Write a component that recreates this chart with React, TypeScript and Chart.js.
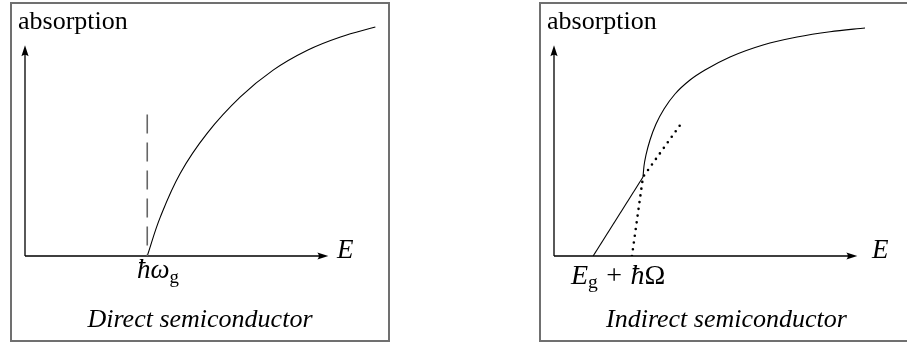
import React, { useEffect, useRef } from "react";
import { Chart, registerables } from "chart.js";

Chart.register(...registerables);

// ---------- Data (energy E in arbitrary units, absorption in arbitrary units) ----------
// Direct semiconductor
const directEnergy = [4.03, 4.46, 5.12, 6.01, 7.1, 8.18, 9.31, 10.4, 11.55];
const directAbsorption = [0, 1.29, 2.75, 4.08, 5.28, 6.17, 6.83, 7.27, 7.6];
const gapEnergy = 4.03; // ħω_g
const gapMarkerTop = 4.7;

// Indirect semiconductor
const indirectLinearEnergy = [1.29, 2.934];
const indirectLinearAbsorption = [0, 2.622];
const indirectCurveEnergy = [2.934, 2.967, 3.033, 3.165, 3.363, 3.627, 3.989, 4.484, 4.978, 5.803, 6.891, 8.012, 9.1, 10.254];
const indirectCurveAbsorption = [2.622, 2.988, 3.353, 3.851, 4.382, 4.88, 5.378, 5.842, 6.174, 6.606, 7.004, 7.27, 7.446, 7.568];
const dottedEnergy = [2.57, 2.934, 4.16];
const dottedAbsorption = [0, 2.622, 4.35];

// Axis extents
const axisMaxE = 10;
const axisMaxA = 7;
const scaleMaxE = 12;
const scaleMaxA = 8;

const pts = (xs: number[], ys: number[]) => xs.map((x, i) => ({ x, y: ys[i] }));

const FONT = '"Liberation Serif", "DejaVu Serif", serif';

const arrowAxes = {
  id: "arrowAxes",
  beforeDatasetsDraw(chart: any) {
    const { ctx, scales } = chart;
    const x = scales.x;
    const y = scales.y;
    const x0 = x.getPixelForValue(0);
    const y0 = y.getPixelForValue(0);
    const x1 = x.getPixelForValue(axisMaxE);
    const y1 = y.getPixelForValue(axisMaxA);
    ctx.save();
    ctx.strokeStyle = "#000";
    ctx.fillStyle = "#000";
    ctx.lineWidth = 1.3;
    ctx.beginPath();
    ctx.moveTo(x0, y0);
    ctx.lineTo(x1 - 6, y0);
    ctx.moveTo(x0, y0);
    ctx.lineTo(x0, y1 + 6);
    ctx.stroke();
    // x arrow head
    ctx.beginPath();
    ctx.moveTo(x1, y0);
    ctx.lineTo(x1 - 11, y0 - 3.6);
    ctx.quadraticCurveTo(x1 - 8, y0, x1 - 11, y0 + 3.6);
    ctx.closePath();
    ctx.fill();
    // y arrow head
    ctx.beginPath();
    ctx.moveTo(x0, y1);
    ctx.lineTo(x0 - 3.6, y1 + 11);
    ctx.quadraticCurveTo(x0, y1 + 8, x0 + 3.6, y1 + 11);
    ctx.closePath();
    ctx.fill();
    ctx.restore();
  },
};

function Panel({ left, datasets }: { left: number; datasets: any[] }) {
  const ref = useRef<HTMLCanvasElement | null>(null);
  useEffect(() => {
    if (!ref.current) return;
    const chart = new Chart(ref.current, {
      type: "line",
      data: { datasets },
      options: {
        animation: false,
        responsive: false,
        maintainAspectRatio: false,
        layout: { padding: { left: 15, top: 13, right: 1, bottom: 86 } },
        plugins: { legend: { display: false }, tooltip: { enabled: false } },
        elements: { point: { radius: 0 } },
        scales: {
          x: { type: "linear", min: 0, max: scaleMaxE, display: false },
          y: { type: "linear", min: 0, max: scaleMaxA, display: false },
        },
      },
      plugins: [arrowAxes],
    } as any);
    return () => chart.destroy();
  }, []);
  return (
    <canvas
      ref={ref}
      width={380}
      height={340}
      style={{ position: "absolute", left, top: 2, width: 380, height: 340 }}
    />
  );
}

const directDatasets = [
  {
    data: [
      { x: gapEnergy, y: gapMarkerTop },
      { x: gapEnergy, y: 0 },
    ],
    borderColor: "#666",
    borderWidth: 1.6,
    borderDash: [19, 9],
    tension: 0,
  },
  {
    data: pts(directEnergy, directAbsorption),
    borderColor: "#000",
    borderWidth: 1.1,
    tension: 0.4,
  },
];

const indirectDatasets = [
  {
    data: pts(dottedEnergy, dottedAbsorption),
    borderColor: "#000",
    borderWidth: 2.6,
    borderDash: [0, 6.8],
    borderCapStyle: "round",
    tension: 0,
  },
  {
    data: pts(indirectLinearEnergy, indirectLinearAbsorption),
    borderColor: "#000",
    borderWidth: 1.1,
    tension: 0,
  },
  {
    data: pts(indirectCurveEnergy, indirectCurveAbsorption),
    borderColor: "#000",
    borderWidth: 1.1,
    cubicInterpolationMode: "monotone",
  },
];

const txt = (
  left: number,
  baseline: number,
  size: number,
  content: React.ReactNode,
  extra: React.CSSProperties = {}
) => (
  <div
    style={{
      position: "absolute",
      left,
      top: baseline - 0.8375 * size,
      fontFamily: FONT,
      fontSize: size,
      lineHeight: 1,
      whiteSpace: "nowrap",
      color: "#000",
      ...extra,
    }}
  >
    {content}
  </div>
);

const sub = (s: string) => (
  <span style={{ fontSize: "0.7em", fontStyle: "normal", position: "relative", top: "0.22em" }}>{s}</span>
);

export default function App() {
  return (
    <div
      style={{
        position: "fixed",
        left: 0,
        top: 0,
        width: 907,
        height: 346,
        overflow: "hidden",
        background: "#fff",
      }}
    >
      <Panel left={10} datasets={directDatasets} />
      <Panel left={539} datasets={indirectDatasets} />

      <div
        style={{
          position: "absolute",
          left: 10,
          top: 2,
          width: 380,
          height: 340,
          boxSizing: "border-box",
          border: "2px solid #707070",
          pointerEvents: "none",
        }}
      />
      <div
        style={{
          position: "absolute",
          left: 539,
          top: 2,
          width: 380,
          height: 340,
          boxSizing: "border-box",
          border: "2px solid #707070",
          pointerEvents: "none",
        }}
      />

      {txt(18, 30, 26, "absorption")}
      {txt(547, 30, 26, "absorption")}

      {txt(337, 259, 27, <i>E</i>)}
      {txt(872, 259, 27, <i>E</i>)}

      {txt(137, 279, 27, (
        <span>
          <i>ħω</i>
          {sub("g")}
        </span>
      ))}
      {txt(571, 284, 28, (
        <span>
          <i>E</i>
          {sub("g")}
          <span style={{ margin: "0 0.3em" }}>+</span>
          <i>ħ</i>Ω
        </span>
      ))}

      {txt(0, 328, 26, <i>Direct semiconductor</i>, { left: 10, width: 380, textAlign: "center" })}
      {txt(0, 328, 26, <i>Indirect semiconductor</i>, { left: 606 })}
    </div>
  );
}
